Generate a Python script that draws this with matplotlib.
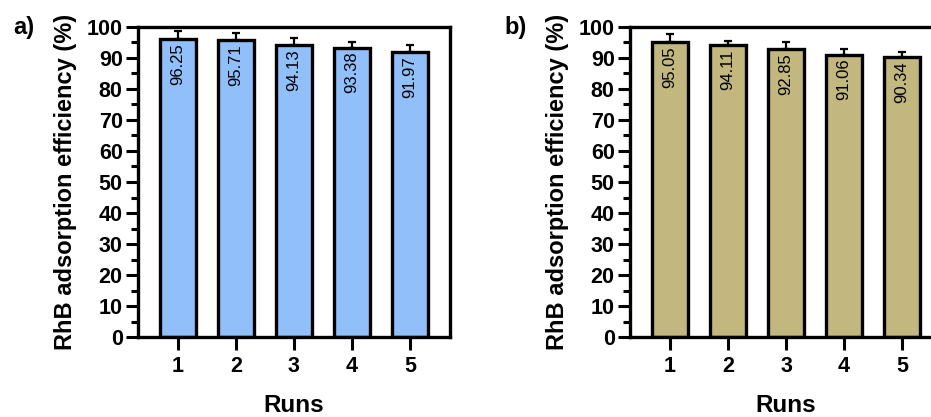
import matplotlib
matplotlib.use('Agg')
import matplotlib.pyplot as plt
from matplotlib.ticker import MultipleLocator
import numpy as np

plt.rcParams['font.family'] = ['Liberation Sans', 'DejaVu Sans']

# data
runs = [1, 2, 3, 4, 5]
eff_a = [96.25, 95.71, 94.13, 93.38, 91.97]
err_a = [2.5, 2.2, 2.3, 1.7, 2.3]
eff_b = [95.05, 94.11, 92.85, 91.06, 90.34]
err_b = [2.6, 1.4, 2.4, 1.7, 1.6]
panel_labels = ['a)', 'b)']
colors = ['#90bff9', '#c2b77e']

fig = plt.figure(figsize=(9.31, 4.17), dpi=100)
ax_a = fig.add_axes([0.1482, 0.1918, 0.3351, 0.7435])
ax_b = fig.add_axes([0.6767, 0.1918, 0.3351, 0.7435])


def draw_panel(ax, vals, errs, color):
    ax.bar(runs, vals, width=0.62, color=color, edgecolor='black', linewidth=2.4, zorder=2)
    ax.errorbar(runs, vals, yerr=[[0] * len(errs), errs], fmt='none', ecolor='black',
                elinewidth=1.6, capsize=3, capthick=1.6, zorder=1)
    for x, v in zip(runs, vals):
        ax.annotate(f'{v:.2f}', (x, v), xytext=(0, -3), textcoords='offset points',
                    rotation=90, ha='center', va='top', fontsize=12)
    ax.set_xlim(0.31, 5.69)
    ax.set_ylim(0, 100)
    ax.set_xticks(runs)
    ax.yaxis.set_major_locator(MultipleLocator(10))
    ax.yaxis.set_minor_locator(MultipleLocator(5))
    for s in ax.spines.values():
        s.set_linewidth(2.4)
    ax.tick_params(axis='both', which='major', length=9, width=2.2, labelsize=15.5, pad=2)
    ax.tick_params(axis='y', which='minor', length=5, width=2.2)
    for t in ax.get_xticklabels() + ax.get_yticklabels():
        t.set_fontweight('bold')
    ax.tick_params(axis='x', pad=5)
    ax.set_xlabel('Runs', fontsize=17.5, fontweight='bold', labelpad=12)
    ax.set_ylabel('RhB adsorption efficiency (%)', fontsize=17, fontweight='bold', labelpad=7)


draw_panel(ax_a, eff_a, err_a, colors[0])
draw_panel(ax_b, eff_b, err_b, colors[1])

fig.text(0.014, 0.935, panel_labels[0], fontsize=17, fontweight='bold', va='center')
fig.text(0.542, 0.935, panel_labels[1], fontsize=17, fontweight='bold', va='center')

fig.savefig('out.png', dpi=100)
